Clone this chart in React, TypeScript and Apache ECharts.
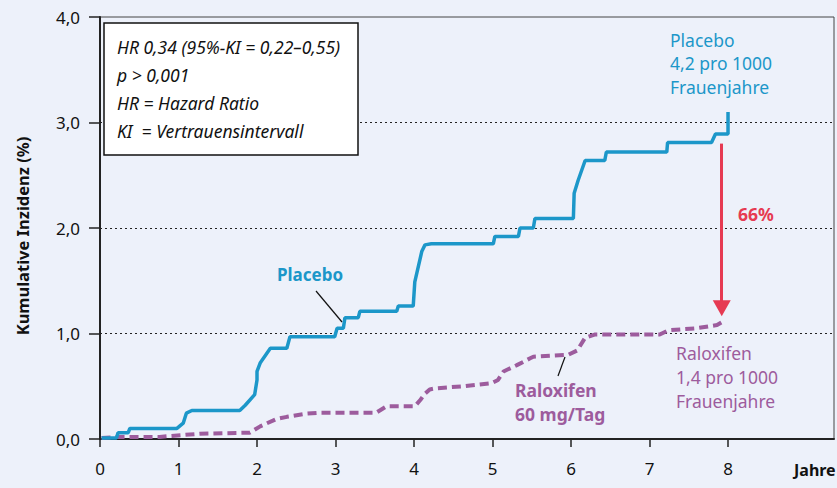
import React, { useEffect, useRef } from "react";
import * as echarts from "echarts";

const xTicks = [0, 1, 2, 3, 4, 5, 6, 7, 8];

const placeboYears = [
  0.02, 0.21, 0.23, 0.36, 0.38, 0.98, 1.06, 1.1, 1.17, 1.78, 1.85, 1.97, 2.0, 2.0, 2.04, 2.17,
  2.38, 2.42, 2.99, 3.02, 3.1, 3.12, 3.29, 3.31, 3.78, 3.8, 3.99, 4.01, 4.1, 4.14, 4.22, 5.01,
  5.03, 5.33, 5.35, 5.52, 5.54, 6.03, 6.04, 6.09, 6.18, 6.43, 6.45, 7.22, 7.23, 7.79, 7.84,
  8.0, 8.0,
];
const placeboIncidence = [
  0.01, 0.01, 0.06, 0.06, 0.1, 0.1, 0.15, 0.245, 0.27, 0.27, 0.32, 0.42, 0.56, 0.64, 0.72, 0.86,
  0.86, 0.97, 0.97, 1.05, 1.05, 1.15, 1.15, 1.21, 1.21, 1.26, 1.26, 1.49, 1.78, 1.84, 1.85, 1.85,
  1.92, 1.92, 2.0, 2.0, 2.09, 2.09, 2.33, 2.45, 2.64, 2.64, 2.72, 2.72, 2.81, 2.81, 2.89,
  2.89, 3.1,
];

const raloxifenYears = [
  0.02, 0.25, 0.76, 1.27, 1.91, 2.04, 2.25, 2.38, 2.63, 2.8, 3.52, 3.65, 4.01, 4.08, 4.14, 4.2,
  4.27, 4.63, 4.99, 5.07, 5.14, 5.31, 5.48, 5.52, 5.97, 6.08, 6.18, 6.3, 7.13, 7.24, 7.6, 7.86,
  7.93,
];
const raloxifenIncidence = [
  0.01, 0.02, 0.02, 0.05, 0.06, 0.12, 0.19, 0.21, 0.24, 0.25, 0.25, 0.31, 0.31, 0.37, 0.43, 0.47,
  0.48, 0.5, 0.53, 0.56, 0.64, 0.7, 0.765, 0.78, 0.8, 0.84, 0.96, 0.99, 0.99, 1.03, 1.05, 1.08,
  1.11,
];

const arrowFrom = [7.92, 2.8];
const arrowTo = [7.92, 1.24];

const BLUE = "#1c97c9";
const PURPLE = "#9d5c9d";
const RED = "#e63a52";
const BG = "#edf1fa";
const FONT = "'Noto Sans', 'DejaVu Sans', sans-serif";

export default function App() {
  const ref = useRef<HTMLDivElement>(null);

  useEffect(() => {
    document.body.style.margin = "0";
    document.body.style.background = BG;
    if (!ref.current) return;
    const chart = echarts.init(ref.current, undefined, { renderer: "svg" });

    const placeboData = placeboYears.map((x, i) => [x, placeboIncidence[i]]);
    const raloxData = raloxifenYears.map((x, i) => [x, raloxifenIncidence[i]]);

    chart.setOption({
      animation: false,
      backgroundColor: BG,
      textStyle: { fontFamily: FONT },
      grid: {
        left: 100,
        right: 3,
        top: 17,
        bottom: 49,
        show: true,
        borderColor: "#444",
        borderWidth: 1,
        backgroundColor: "transparent",
      },
      xAxis: {
        type: "value",
        min: 0,
        max: 9.35,
        axisLine: { show: true, onZero: false, lineStyle: { color: "#222", width: 2 } },
        axisTick: {
          show: true,
          customValues: xTicks,
          length: 8,
          lineStyle: { color: "#222", width: 1.5 },
        },
        axisLabel: {
          customValues: xTicks,
          fontSize: 17,
          color: "#111",
          margin: 21,
          fontFamily: FONT,
        },
        splitLine: { show: false },
      },
      yAxis: {
        type: "value",
        min: 0,
        max: 4,
        interval: 1,
        axisLine: { show: true, lineStyle: { color: "#222", width: 2 } },
        axisTick: { show: true, length: 11, lineStyle: { color: "#222", width: 1.5 } },
        axisLabel: {
          fontSize: 17,
          color: "#111",
          margin: 20,
          fontFamily: FONT,
          formatter: (v: number) => v.toFixed(1).replace(".", ","),
        },
        splitLine: {
          show: true,
          showMinLine: false,
          showMaxLine: false,
          lineStyle: { type: [2, 3], color: "#222", width: 1 },
        },
      },
      series: [
        {
          name: "Raloxifen 60 mg/Tag",
          type: "line",
          data: raloxData,
          symbol: "none",
          silent: true,
          lineStyle: { color: PURPLE, width: 4, type: [9, 5] },
          z: 2,
        },
        {
          name: "Placebo",
          type: "line",
          data: placeboData,
          symbol: "none",
          silent: true,
          lineStyle: { color: BLUE, width: 3.5 },
          z: 3,
          markLine: {
            silent: true,
            symbol: ["none", "triangle"],
            symbolSize: [18, 16],
            label: { show: false },
            lineStyle: { color: RED, width: 3, type: "solid" },
            itemStyle: { color: RED },
            data: [[{ coord: arrowFrom }, { coord: arrowTo }]],
          },
        },
      ],
      graphic: [
        {
          type: "text",
          x: 22,
          y: 236,
          rotation: Math.PI / 2,
          z: 11,
          style: {
            text: "Kumulative Inzidenz (%)",
            font: `bold 16.5px ${FONT}`,
            fill: "#111",
            align: "center",
            verticalAlign: "middle",
          },
        },
        {
          type: "rect",
          shape: { x: 104, y: 23, width: 254, height: 132 },
          style: { fill: "#ffffff", stroke: "#111", lineWidth: 1.5 },
          z: 10,
        },
        {
          type: "text",
          x: 117,
          y: 33,
          z: 11,
          style: {
            text: "HR 0,34 (95%-KI = 0,22–0,55)\np > 0,001\nHR = Hazard Ratio\nKI  = Vertrauensintervall",
            font: `italic 17.5px ${FONT}`,
            fill: "#111",
            lineHeight: 28,
            verticalAlign: "top",
          },
        },
        {
          type: "text",
          x: 670,
          y: 28,
          z: 11,
          style: {
            text: "Placebo\n4,2 pro 1000\nFrauenjahre",
            font: `17.5px ${FONT}`,
            fill: BLUE,
            lineHeight: 23.5,
            verticalAlign: "top",
          },
        },
        {
          type: "text",
          x: 676,
          y: 341,
          z: 11,
          style: {
            text: "Raloxifen\n1,4 pro 1000\nFrauenjahre",
            font: `17.5px ${FONT}`,
            fill: PURPLE,
            lineHeight: 24,
            verticalAlign: "top",
          },
        },
        {
          type: "text",
          x: 277,
          y: 274,
          z: 11,
          style: {
            text: "Placebo",
            font: `bold 17px ${FONT}`,
            fill: BLUE,
            verticalAlign: "middle",
          },
        },
        {
          type: "text",
          x: 515,
          y: 378,
          z: 11,
          style: {
            text: "Raloxifen\n60 mg/Tag",
            font: `bold 17.5px ${FONT}`,
            fill: PURPLE,
            lineHeight: 24,
            verticalAlign: "top",
          },
        },
        {
          type: "text",
          x: 738,
          y: 214,
          z: 11,
          style: {
            text: "66%",
            font: `bold 17.5px ${FONT}`,
            fill: RED,
            verticalAlign: "middle",
          },
        },
        {
          type: "text",
          x: 794,
          y: 470,
          z: 11,
          style: {
            text: "Jahre",
            font: `bold 16px ${FONT}`,
            fill: "#111",
            verticalAlign: "middle",
          },
        },
        {
          type: "line",
          shape: { x1: 316, y1: 291, x2: 342, y2: 322 },
          style: { stroke: "#111", lineWidth: 1.2 },
          z: 11,
        },
        {
          type: "line",
          shape: { x1: 558, y1: 376, x2: 565, y2: 357 },
          style: { stroke: "#111", lineWidth: 1.2 },
          z: 11,
        },
      ],
    });

    return () => {
      chart.dispose();
    };
  }, []);

  return <div ref={ref} style={{ width: 837, height: 488 }} />;
}
